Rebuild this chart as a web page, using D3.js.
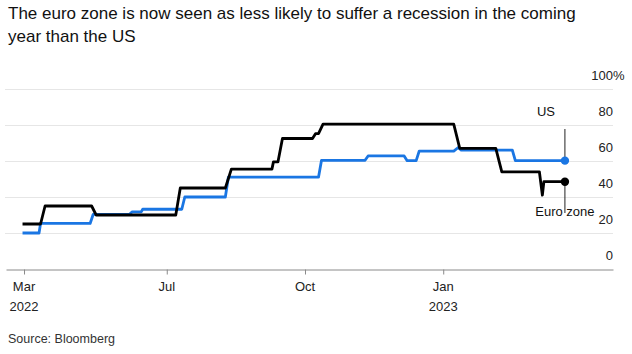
<!DOCTYPE html>
<html>
<head>
<meta charset="utf-8">
<script src="https://cdn.jsdelivr.net/npm/d3@7"></script>
<style>
  body { margin: 0; background: #fff; }
  svg { display: block; font-family: "Liberation Sans", Arial, sans-serif; }
</style>
</head>
<body>
<div id="main"></div>
<script>
const W = 632, H = 354;

// probability of recession in the next year, % (Bloomberg economist surveys)
const euroZone = [
    ["2022-03-27", 25], ["2022-04-08", 25], ["2022-04-11", 35],
    ["2022-05-12", 35], ["2022-05-15", 30], ["2022-07-07", 30],
    ["2022-07-10", 45], ["2022-08-09", 45], ["2022-08-13", 55.5],
    ["2022-09-09", 55.5], ["2022-09-10", 59.5], ["2022-09-13", 59.5],
    ["2022-09-16", 72.5], ["2022-10-06", 72.5], ["2022-10-08", 75.2],
    ["2022-10-10", 75.2], ["2022-10-13", 80.5], ["2023-01-08", 80.5],
    ["2023-01-12", 67], ["2023-02-05", 67], ["2023-02-09", 54],
    ["2023-03-06", 54], ["2023-03-08", 41], ["2023-03-09", 48.5],
    ["2023-03-23", 48.5]
];
const us = [
    ["2022-03-27", 20], ["2022-04-07", 20], ["2022-04-08", 25.3],
    ["2022-05-11", 25.3], ["2022-05-13", 30.3], ["2022-06-06", 30.3],
    ["2022-06-08", 31.7], ["2022-06-14", 31.7], ["2022-06-15", 33.2],
    ["2022-07-11", 33.2], ["2022-07-13", 40], ["2022-08-09", 40],
    ["2022-08-11", 51], ["2022-10-10", 51], ["2022-10-12", 60.4],
    ["2022-11-10", 60.4], ["2022-11-12", 62.8], ["2022-12-06", 62.8],
    ["2022-12-08", 60.2], ["2022-12-14", 60.2], ["2022-12-16", 65.5],
    ["2023-01-08", 65.5], ["2023-01-11", 67.5], ["2023-01-13", 66],
    ["2023-02-16", 66], ["2023-02-18", 60.2], ["2023-03-23", 60.2]
];

const xTickDates = ["2022-03-28", "2022-07-01", "2022-10-01", "2023-01-01"];
const xTickMonths = ["Mar", "Jul", "Oct", "Jan"];
const xTickYears = ["2022", "", "", "2023"];
const yTicks = [0, 20, 40, 60, 80, 100];

const parse = d3.timeParse("%Y-%m-%d");
const BLUE = "#1a76e3";

const x = d3.scaleTime()
    .domain([parse("2022-03-16"), parse("2023-04-24")])
    .range([6, 613]);
const y = d3.scaleLinear().domain([0, 100]).range([269, 89]);

const svg = d3.select("#main").append("svg")
    .attr("width", W).attr("height", H);

// title
const title = svg.append("text")
    .attr("x", 8).attr("y", 19)
    .attr("font-size", 17).attr("fill", "#111");
title.append("tspan").attr("x", 8)
    .text("The euro zone is now seen as less likely to suffer a recession in the coming");
title.append("tspan").attr("x", 8).attr("dy", 23)
    .text("year than the US");

// gridlines + right labels
const grid = svg.append("g");
grid.selectAll("line")
    .data(yTicks.filter(d => d > 0))
    .enter().append("line")
    .attr("x1", 5).attr("x2", 613)
    .attr("y1", d => Math.round(y(d)) + 0.5)
    .attr("y2", d => Math.round(y(d)) + 0.5)
    .attr("stroke", "#e6e6e6");

grid.selectAll("text")
    .data(yTicks)
    .enter().append("text")
    .attr("x", 613)
    .attr("y", d => y(d) - 9)
    .attr("text-anchor", "end")
    .attr("font-size", 13).attr("fill", "#222")
    .text(d => d);
svg.append("text")
    .attr("x", 613).attr("y", y(100) - 9)
    .attr("font-size", 13).attr("fill", "#222")
    .text("%");

// x axis
const xAxis = d3.axisBottom(x)
    .tickValues(xTickDates.map(parse))
    .tickSize(5).tickSizeOuter(0)
    .tickFormat("");
const gx = svg.append("g")
    .attr("transform", `translate(0,${Math.round(y(0)) + 0.5})`)
    .call(xAxis);
gx.select(".domain").attr("stroke", "#8a8a8a");
gx.selectAll(".tick line").attr("stroke", "#8a8a8a");

const labels = svg.append("g").attr("font-size", 13).attr("fill", "#222")
    .attr("text-anchor", "middle");
xTickDates.forEach(function(d, i){
    const t = labels.append("text").attr("x", x(parse(d))).attr("y", 291);
    t.append("tspan").attr("x", x(parse(d))).text(xTickMonths[i]);
    if (xTickYears[i]) {
        t.append("tspan").attr("x", x(parse(d))).attr("dy", 20).text(xTickYears[i]);
    }
});

// lines
const line = d3.line()
    .x(d => x(parse(d[0])))
    .y(d => y(d[1]));

svg.append("path").datum(us)
    .attr("d", line)
    .attr("fill", "none").attr("stroke", BLUE)
    .attr("stroke-width", 2.8).attr("stroke-linejoin", "round");
svg.append("path").datum(euroZone)
    .attr("d", line)
    .attr("fill", "none").attr("stroke", "#000")
    .attr("stroke-width", 2.8).attr("stroke-linejoin", "round");

// end markers + annotations
const usLast = us[us.length - 1];
const ezLast = euroZone[euroZone.length - 1];
const ux = x(parse(usLast[0]));

svg.append("line")
    .attr("x1", ux).attr("x2", ux)
    .attr("y1", 129).attr("y2", y(usLast[1]))
    .attr("stroke", "#222").attr("stroke-width", 1);
svg.append("line")
    .attr("x1", ux).attr("x2", ux)
    .attr("y1", y(ezLast[1])).attr("y2", 213)
    .attr("stroke", "#222").attr("stroke-width", 1);

svg.append("circle").attr("cx", ux).attr("cy", y(usLast[1]))
    .attr("r", 4.2).attr("fill", BLUE);
svg.append("circle").attr("cx", x(parse(ezLast[0]))).attr("cy", y(ezLast[1]))
    .attr("r", 4.2).attr("fill", "#000");

svg.append("text")
    .attr("x", 555).attr("y", 116)
    .attr("text-anchor", "end")
    .attr("font-size", 13).attr("fill", "#111")
    .text("US");
svg.append("text")
    .attr("x", ux).attr("y", 216)
    .attr("text-anchor", "middle")
    .attr("font-size", 13).attr("fill", "#111")
    .text("Euro zone");

// source
svg.append("text")
    .attr("x", 8).attr("y", 343)
    .attr("font-size", 12.5).attr("fill", "#333")
    .text("Source: Bloomberg");
</script>
</body>
</html>
